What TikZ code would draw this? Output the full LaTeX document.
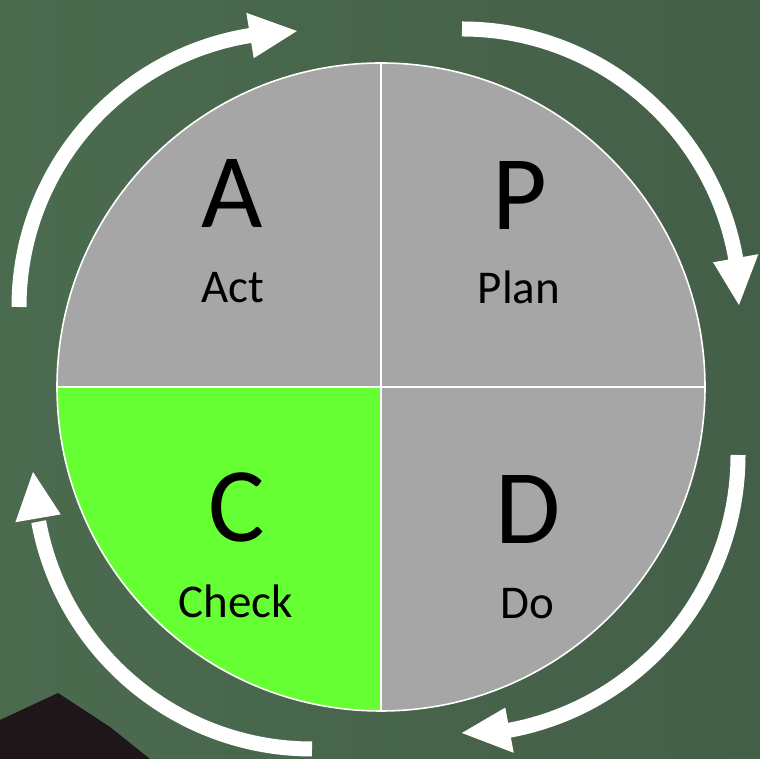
\documentclass[tikz,border=0pt]{standalone}
\usepackage{fontspec}
\setmainfont{Carlito}
\definecolor{bgL}{HTML}{4B6B4F}
\definecolor{bgR}{HTML}{445F48}
\definecolor{qgrey}{HTML}{A6A6A6}
\definecolor{qgreen}{HTML}{66FF33}
\definecolor{darkobj}{HTML}{1E1619}
\begin{document}
\begin{tikzpicture}[x=1pt,y=1pt,
  divline/.style={draw=white, line width=1.6pt},
  cycshaft/.style={draw=white, line width=15pt},
  bigletter/.style={font=\fontsize{106}{106}\selectfont, anchor=base, inner sep=0pt, text=black},
  smallword/.style={font=\fontsize{47}{47}\selectfont, anchor=base, inner sep=0pt, text=black}]
\useasboundingbox (0,0) rectangle (760,759);
\shade[left color=bgL, right color=bgR] (0,0) rectangle (760,759);
\fill[darkobj] (0,39) -- (58,66) -- (110,32) -- (150,0) -- (0,0) -- cycle;
% circle quadrants
\coordinate (O) at (381,372);
\fill[qgrey] (O) -- ++(0:324) arc[start angle=0, end angle=90, radius=324] -- cycle;
\fill[qgrey] (O) -- ++(90:324) arc[start angle=90, end angle=180, radius=324] -- cycle;
\fill[qgreen] (O) -- ++(180:324) arc[start angle=180, end angle=270, radius=324] -- cycle;
\fill[qgrey] (O) -- ++(270:324) arc[start angle=270, end angle=360, radius=324] -- cycle;
\draw[divline] (O) circle[radius=324];
\coordinate (W) at (57,372);
\coordinate (E) at (705,372);
\coordinate (N) at (381,696);
\coordinate (S) at (381,48);
\draw[divline] (W) -- (E);
\draw[divline] (N) -- (S);
% labels
\node[bigletter] (A) at (232,531) {A};
\node[smallword] (Act) at (233,456) {Act};
\node[bigletter] (P) at (520,529) {P};
\node[smallword] (Plan) at (519,455) {Plan};
\node[bigletter] (C) at (237,217) {C};
\node[smallword] (Check) at (236,141) {Check};
\node[bigletter] (D) at (528,215) {D};
\node[smallword] (Do) at (527,140) {Do};
% cycle arrows
\coordinate (tlc) at (294,452);
\coordinate (trc) at (462,452);
\coordinate (brc) at (458,304);
\coordinate (blc) at (312,288);
% top-left
\draw[cycshaft] ([shift={(tlc)}]180:275) arc[start angle=180, end angle=98.5, radius=275];
\fill[white] ([shift={(tlc)}]99.2:252) -- ([shift={(tlc)}]99.2:298) -- ([shift={(tlc)}]89.4:276) -- cycle;
% top-right
\draw[cycshaft] ([shift={(trc)}]90:278) arc[start angle=90, end angle=9.5, radius=278];
\fill[white] ([shift={(trc)}]10.1:255) -- ([shift={(trc)}]10.1:301) -- ([shift={(trc)}]0.4:277) -- cycle;
% bottom-right
\draw[cycshaft] ([shift={(brc)}]0:280) arc[start angle=0, end angle=-80, radius=280];
\fill[white] ([shift={(brc)}]-79.4:257) -- ([shift={(brc)}]-79.4:303) -- ([shift={(brc)}]-89.2:278) -- cycle;
% bottom-left
\draw[cycshaft] ([shift={(blc)}]270:278) arc[start angle=270, end angle=190.5, radius=278];
\fill[white] ([shift={(blc)}]189.8:255) -- ([shift={(blc)}]189.8:301) -- ([shift={(blc)}]180.2:279) -- cycle;
\end{tikzpicture}
\end{document}
